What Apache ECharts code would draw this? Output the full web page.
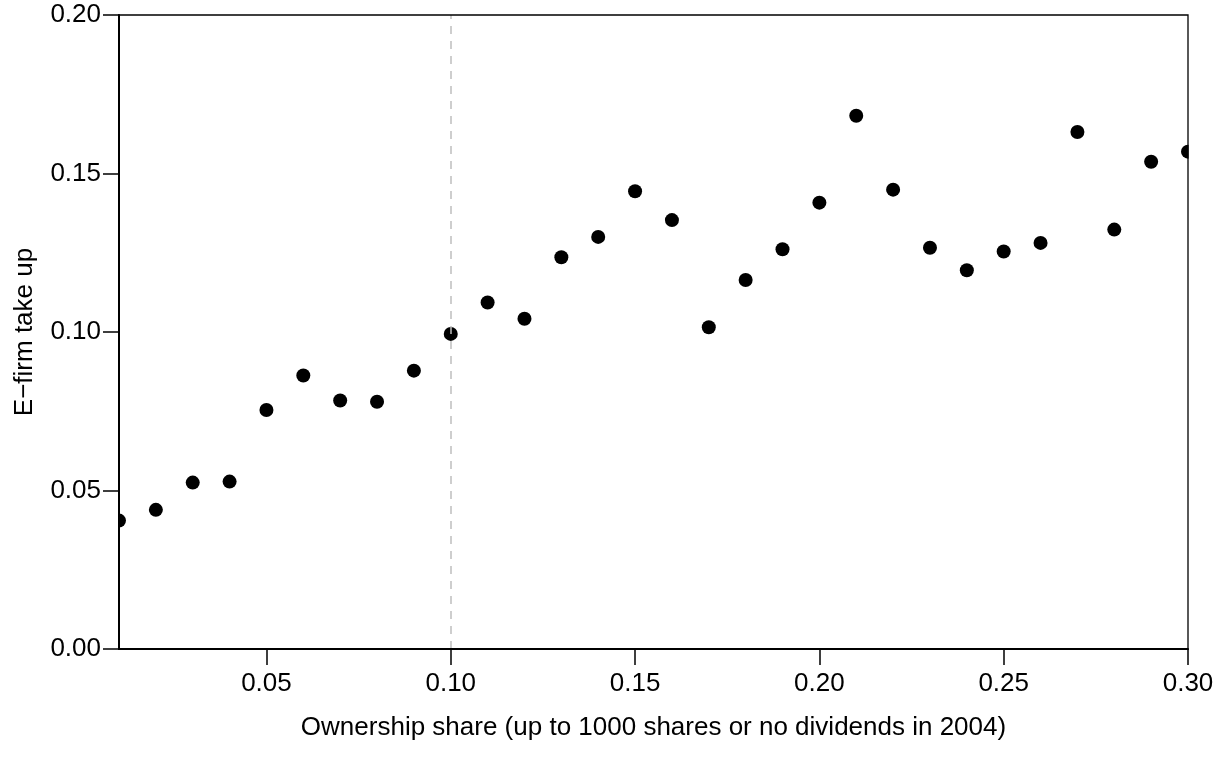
<!DOCTYPE html>
<html>
<head>
<meta charset="utf-8">
<script src="https://cdn.jsdelivr.net/npm/echarts@6/dist/echarts.min.js"></script>
<style>
html,body{margin:0;padding:0;background:#fff;}
#chart{width:1223px;height:761px;}
</style>
</head>
<body>
<div id="chart"></div>
<script>
// Data
const ownershipShare = [0.01,0.02,0.03,0.04,0.05,0.06,0.07,0.08,0.09,0.10,
  0.11,0.12,0.13,0.14,0.15,0.16,0.17,0.18,0.19,0.20,
  0.21,0.22,0.23,0.24,0.25,0.26,0.27,0.28,0.29,0.30];
const takeUp = [0.0405,0.0439,0.0525,0.0528,0.0754,0.0863,0.0784,0.0780,0.0878,0.0994,
  0.1093,0.1042,0.1236,0.1300,0.1444,0.1353,0.1015,0.1164,0.1261,0.1408,
  0.1682,0.1449,0.1266,0.1195,0.1254,0.1281,0.1631,0.1323,0.1537,0.1569];
const xTicks = [0.05,0.10,0.15,0.20,0.25,0.30];
const yTicks = [0.00,0.05,0.10,0.15,0.20];
const cutoff = 0.10;
const xTitle = 'Ownership share (up to 1000 shares or no dividends in 2004)';
const yTitle = 'E\u2212firm take up';

const FONT = '"Liberation Sans", Arial, Helvetica, sans-serif';
const FS = 26;
const W = 1223, H = 761, GL = 119, GR = 35, GT = 15, GB = 112;
const chart = echarts.init(document.getElementById('chart'), null, {renderer:'canvas'});
chart.setOption({
  animation: false,
  backgroundColor: '#ffffff',
  textStyle: {fontFamily: FONT},
  grid: {left:GL, right:GR, top:GT, bottom:GB, show:true, z:10, borderColor:'#000', borderWidth:1.3, backgroundColor:'transparent'},
  // white masks outside the plot box so edge points are cut like in the reference
  graphic: [
    {type:'rect', z:5, silent:true, shape:{x:0, y:0, width:GL-0.6, height:H}, style:{fill:'#fff'}},
    {type:'rect', z:5, silent:true, shape:{x:W-GR+0.6, y:0, width:GR, height:H}, style:{fill:'#fff'}}
  ],
  xAxis: {
    type:'value', min:0.01, max:0.30, z:10,
    name: xTitle, nameLocation:'middle', nameGap:66, nameMoveOverlap:false,
    nameTextStyle:{fontSize:FS, color:'#000', fontFamily:FONT},
    axisLine:{show:true, onZero:false, lineStyle:{color:'#000', width:2}},
    axisTick:{show:true, inside:false, length:16, customValues:xTicks, lineStyle:{color:'#000', width:1.5}},
    axisLabel:{show:true, margin:22, fontSize:FS, color:'#000', fontFamily:FONT, customValues:xTicks,
      formatter: v => v.toFixed(2)},
    splitLine:{show:false}
  },
  yAxis: {
    type:'value', min:0, max:0.20, interval:0.05, z:10,
    name: yTitle, nameLocation:'middle', nameGap:81, nameMoveOverlap:false,
    nameTextStyle:{fontSize:FS, color:'#000', fontFamily:FONT},
    axisLine:{show:true, onZero:false, lineStyle:{color:'#000', width:2}},
    axisTick:{show:true, inside:false, length:16, customValues:yTicks, lineStyle:{color:'#000', width:1.5}},
    axisLabel:{show:true, margin:18, fontSize:FS, color:'#000', fontFamily:FONT, customValues:yTicks,
      formatter: v => v.toFixed(2)},
    splitLine:{show:false}
  },
  series: [{
    type:'scatter', z:2,
    data: ownershipShare.map((x,i)=>[x, takeUp[i]]),
    symbol:'circle', symbolSize:14,
    itemStyle:{color:'#000', opacity:1},
    emphasis:{disabled:true},
    clip:false,
    markLine:{
      silent:true, symbol:['none','none'],
      label:{show:false},
      lineStyle:{color:'#bebebe', width:1.5, type:[8,7]},
      data:[{xAxis:cutoff}]
    }
  }]
});
</script>
</body>
</html>
